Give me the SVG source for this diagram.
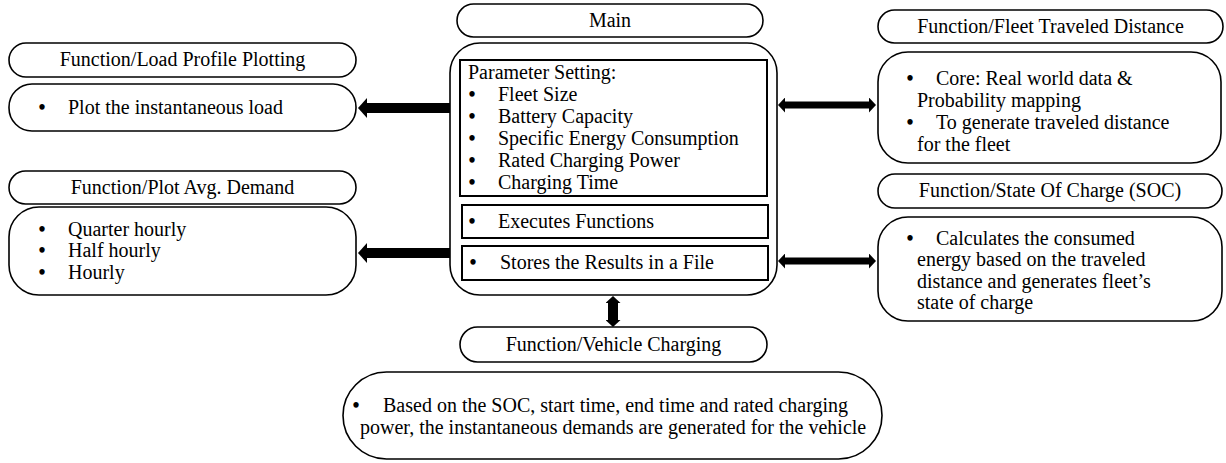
<svg xmlns="http://www.w3.org/2000/svg" width="1226" height="463" viewBox="0 0 1226 463">
<style>
.shape{fill:#fff;stroke:#000;stroke-width:1.6}
.inner{fill:none;stroke:#000;stroke-width:2}
text{font-family:'Liberation Serif','Times New Roman',serif;font-size:20px;fill:#000}
.m{text-anchor:middle}
.b{font-weight:bold}
.con{stroke:#000;fill:none}
.big{stroke-width:10}
.thin{stroke-width:7}
</style>
<defs>
<marker id="hBig" markerUnits="userSpaceOnUse" markerWidth="9" markerHeight="20" viewBox="0 0 9 20" refX="0" refY="10" orient="auto-start-reverse"><path d="M0,0 L9,10 L0,20 z" fill="#000"/></marker>
<marker id="hSm" markerUnits="userSpaceOnUse" markerWidth="7" markerHeight="15" viewBox="0 0 7 15" refX="0" refY="7.5" orient="auto-start-reverse"><path d="M0,0 L7,7.5 L0,15 z" fill="#000"/></marker>
</defs>
<rect width="1226" height="463" fill="#fff"/>

<g id="connectors">
<line class="con big" x1="450" y1="108" x2="367" y2="108" marker-end="url(#hBig)"/>
<line class="con big" x1="450" y1="253" x2="367" y2="253" marker-end="url(#hBig)"/>
<line class="con thin" x1="785" y1="105" x2="869" y2="105" marker-start="url(#hSm)" marker-end="url(#hSm)"/>
<line class="con thin" x1="785" y1="261" x2="869" y2="261" marker-start="url(#hSm)" marker-end="url(#hSm)"/>
<line class="con big" x1="613" y1="303" x2="613" y2="320" marker-start="url(#hSm)" marker-end="url(#hSm)"/>
</g>

<g id="load-profile-header">
<rect class="shape" x="9" y="43" width="347" height="34" rx="17"/>
<text class="m" x="182.5" y="66">Function/Load Profile Plotting</text>
</g>
<g id="load-profile-body">
<rect class="shape" x="9" y="84" width="347" height="47" rx="23"/>
<text class="m b" x="42" y="114">•</text>
<text x="68" y="114">Plot the instantaneous load</text>
</g>

<g id="avg-demand-header">
<rect class="shape" x="9" y="171" width="347" height="33" rx="16.5"/>
<text class="m" x="182.5" y="194">Function/Plot Avg. Demand</text>
</g>
<g id="avg-demand-body">
<rect class="shape" x="9" y="207" width="347" height="88" rx="30"/>
<text class="m b"><tspan x="42" y="236">•</tspan><tspan x="42" y="257">•</tspan><tspan x="42" y="279">•</tspan></text>
<text><tspan x="68" y="236">Quarter hourly</tspan><tspan x="68" y="257">Half hourly</tspan><tspan x="68" y="279">Hourly</tspan></text>
</g>

<g id="main-header">
<rect class="shape" x="457" y="4" width="306" height="33" rx="16.5"/>
<text class="m" x="610" y="27">Main</text>
</g>
<g id="main-body">
<rect class="shape" x="450" y="43" width="327" height="252" rx="30"/>
<rect class="inner" x="460" y="60" width="307" height="136"/>
<text x="468" y="79">Parameter Setting:</text>
<text class="m b"><tspan x="472" y="101">•</tspan><tspan x="472" y="123">•</tspan><tspan x="472" y="145">•</tspan><tspan x="472" y="167">•</tspan><tspan x="472" y="189">•</tspan></text>
<text><tspan x="498" y="101">Fleet Size</tspan><tspan x="498" y="123">Battery Capacity</tspan><tspan x="498" y="145">Specific Energy Consumption</tspan><tspan x="498" y="167">Rated Charging Power</tspan><tspan x="498" y="189">Charging Time</tspan></text>
<rect class="inner" x="462" y="205" width="306" height="33"/>
<text class="m b" x="472" y="228">•</text>
<text x="498" y="228">Executes Functions</text>
<rect class="inner" x="462" y="246" width="306" height="34"/>
<text class="m b" x="473" y="269">•</text>
<text x="500" y="269">Stores the Results in a File</text>
</g>

<g id="fleet-distance-header">
<rect class="shape" x="878" y="10" width="345" height="33" rx="16.5"/>
<text class="m" x="1050.5" y="33">Function/Fleet Traveled Distance</text>
</g>
<g id="fleet-distance-body">
<rect class="shape" x="878" y="52" width="343" height="111" rx="30"/>
<text class="m b"><tspan x="910" y="85">•</tspan><tspan x="910" y="129">•</tspan></text>
<text><tspan x="936" y="85">Core: Real world data &amp;</tspan><tspan x="917" y="107">Probability mapping</tspan><tspan x="936" y="129">To generate traveled distance</tspan><tspan x="917" y="151">for the fleet</tspan></text>
</g>

<g id="soc-header">
<rect class="shape" x="878" y="174" width="344" height="34" rx="17"/>
<text class="m" x="1050" y="197">Function/State Of Charge (SOC)</text>
</g>
<g id="soc-body">
<rect class="shape" x="878" y="217" width="344" height="104" rx="30"/>
<text class="m b" x="910" y="245">•</text>
<text><tspan x="936" y="245">Calculates the consumed</tspan><tspan x="917" y="266">energy based on the traveled</tspan><tspan x="917" y="288">distance and generates fleet’s</tspan><tspan x="917" y="309">state of charge</tspan></text>
</g>

<g id="vehicle-charging-header">
<rect class="shape" x="460" y="327" width="307" height="35" rx="17.5"/>
<text class="m" x="613.5" y="351">Function/Vehicle Charging</text>
</g>
<g id="vehicle-charging-body">
<rect class="shape" x="343" y="372" width="539" height="87" rx="43.5"/>
<text class="m b" x="356" y="412">•</text>
<text><tspan x="383" y="412">Based on the SOC, start time, end time and rated charging</tspan><tspan x="360" y="434">power, the instantaneous demands are generated for the vehicle</tspan></text>
</g>
</svg>
